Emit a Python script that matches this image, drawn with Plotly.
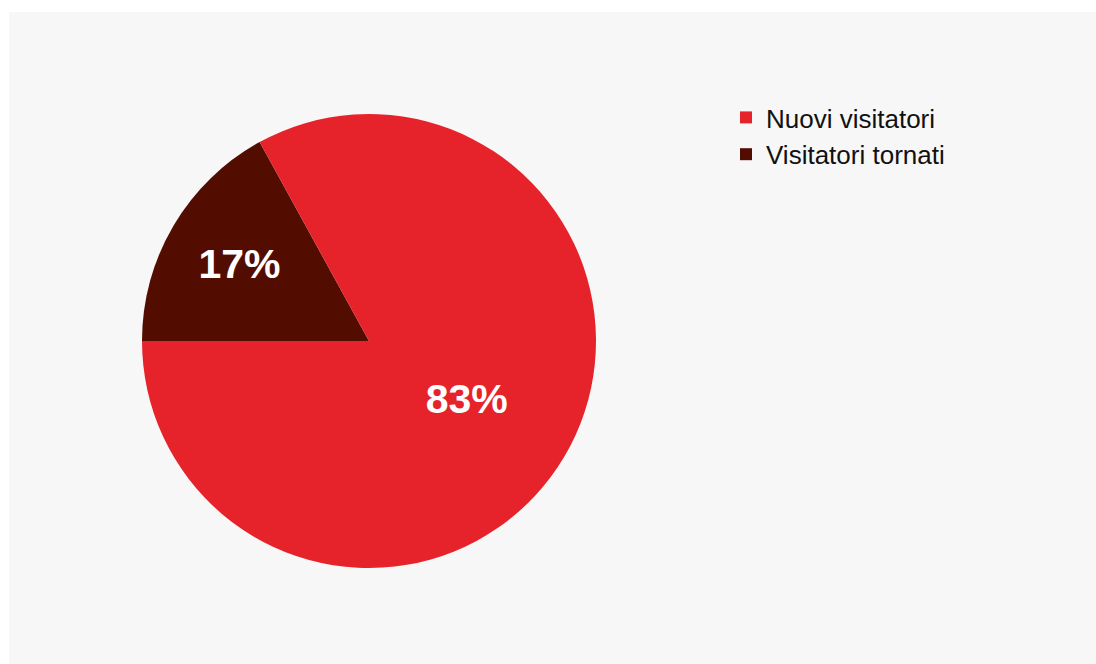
import plotly.graph_objects as go

# listed in drawing order (dark slice first, from 9 o'clock clockwise);
# legend is reversed below so "Nuovi visitatori" comes first
labels = ["Visitatori tornati", "Nuovi visitatori"]
values = [17, 83]
colors = ["#530d00", "#e6232a"]

W, H = 1096, 664

fig = go.Figure()
fig.add_trace(go.Pie(
    labels=labels,
    values=values,
    marker=dict(colors=colors, line=dict(width=0)),
    sort=False,
    direction="clockwise",
    rotation=270,
    textinfo="percent",
    textposition="inside",
    insidetextorientation="horizontal",
    textfont=dict(family="Liberation Sans", size=41, color="white", weight="bold"),
    hoverinfo="label+percent",
    domain=dict(x=[142 / W, 596 / W], y=[96 / H, 550 / H]),
))

# gray panel with a thin white margin on top/left
fig.add_shape(type="rect", xref="paper", yref="paper",
              x0=9 / W, x1=1, y0=0, y1=1 - 12 / H,
              fillcolor="#f7f7f7", line=dict(width=0), layer="below")

fig.update_layout(
    width=W, height=H,
    margin=dict(l=0, r=0, t=0, b=0),
    paper_bgcolor="white",
    plot_bgcolor="white",
    showlegend=True,
    legend=dict(
        x=726 / W, y=1 - 94 / H, xanchor="left", yanchor="top",
        font=dict(family="Liberation Sans", size=26, color="#111111"),
        bgcolor="rgba(0,0,0,0)",
        traceorder="reversed",
        itemwidth=30,
    ),
)

# drop the default page margin so the figure fills the window
fig.write_html("out.html",
               config={"displayModeBar": False},
               post_script="document.body.style.margin='0';document.body.style.overflow='hidden';")
